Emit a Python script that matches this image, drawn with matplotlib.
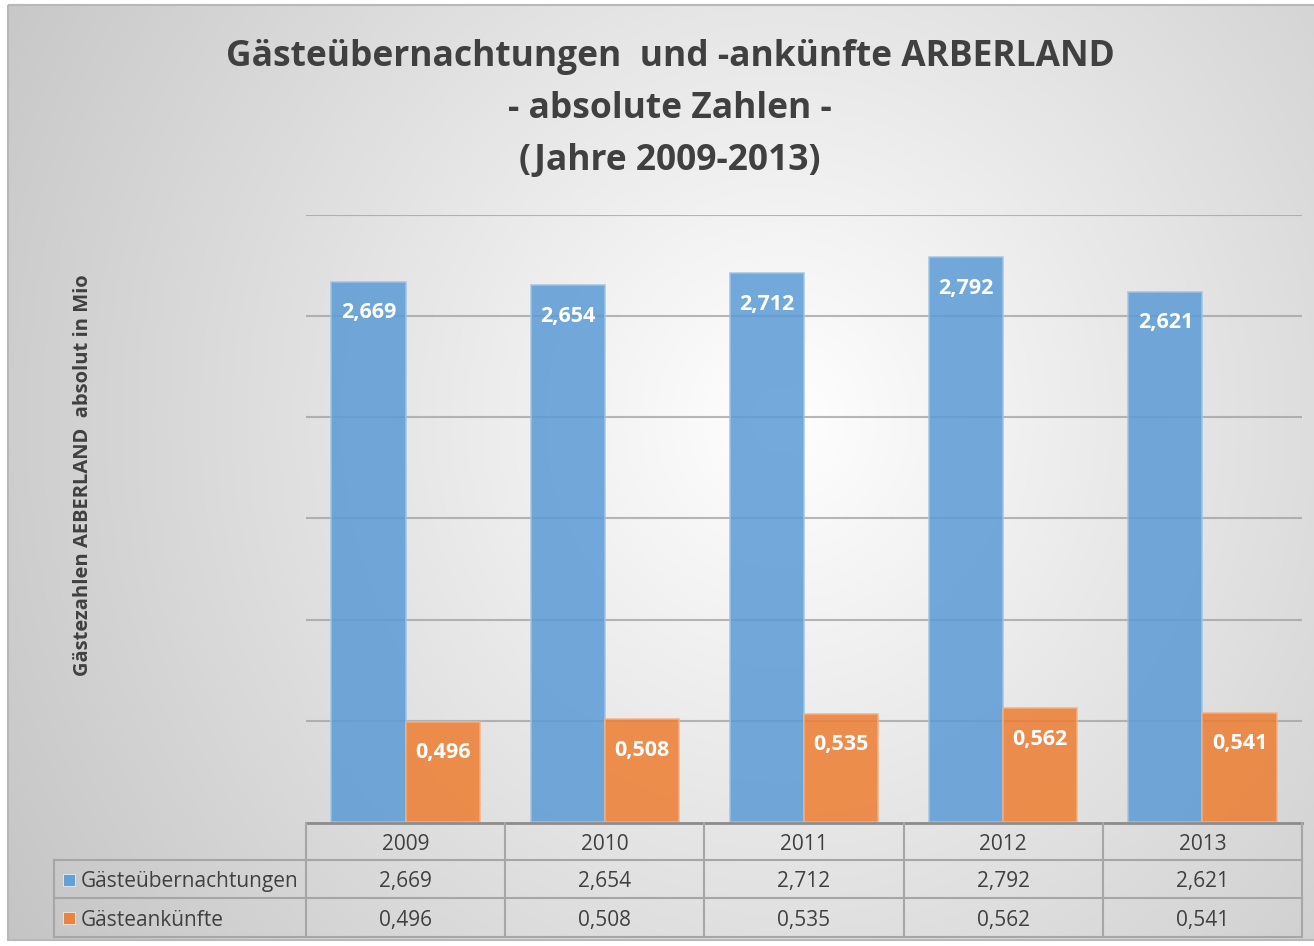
import numpy as np
import matplotlib
matplotlib.use("Agg")
import matplotlib.pyplot as plt
import matplotlib.transforms as mtransforms
from matplotlib.patches import Rectangle

# ---- data ----
years = ["2009", "2010", "2011", "2012", "2013"]
uebernachtungen = [2.669, 2.654, 2.712, 2.792, 2.621]
ankuenfte = [0.496, 0.508, 0.535, 0.562, 0.541]
series_names = ["Gästeübernachtungen", "Gästeankünfte"]
title_lines = ["Gästeübernachtungen  und -ankünfte ARBERLAND", "- absolute Zahlen -", "(Jahre 2009-2013)"]
ylabel = "Gästezahlen AEBERLAND  absolut in Mio"

def de(v):
    return f"{v:.3f}".replace(".", ",")

FONT = ["Open Sans", "DejaVu Sans"]
TXT = "#404040"
BLUE = "#5B9BD5"
ORANGE = "#ED7D31"

W, H = 1314, 946
fig = plt.figure(figsize=(W / 100, H / 100), dpi=100)
fig.patch.set_facecolor("white")

# ---- background panel with radial gradient ----
bg = fig.add_axes([0, 0, 1, 1], zorder=-5)
bg.set_xlim(0, W)
bg.set_ylim(H, 0)
bg.axis("off")
yy, xx = np.mgrid[0:H, 0:W]
cx, cy = 780, 420
r = np.sqrt(((xx - cx) / 1.0) ** 2 + ((yy - cy) / 1.05) ** 2)
val = 1 - 0.22 * np.clip(r / 880, 0, 1.2)
img = np.dstack([val, val, val])
x0, y0, x1, y1 = 8, 5, W + 2, 940
bg.imshow(img[y0:y1, x0:x1], extent=(x0, x1, y1, y0), aspect="auto", interpolation="bilinear")
bg.add_patch(Rectangle((x0, y0), x1 - x0, y1 - y0, fill=False, edgecolor="#b8b8b8", lw=1.5))

# ---- main axes ----
L, R, B, T = 306, 1302, 822, 215
ax = fig.add_axes([L / W, 1 - B / H, (R - L) / W, (B - T) / H])
ax.set_facecolor("none")
x = np.arange(len(years))
bw = 0.372
b1 = ax.bar(x - bw / 2, uebernachtungen, bw, color=BLUE, alpha=0.85, edgecolor="#9DC3E6", lw=1.2, zorder=3)
b2 = ax.bar(x + bw / 2, ankuenfte, bw, color=ORANGE, alpha=0.85, edgecolor="#F4B183", lw=1.2, zorder=3)
ax.set_xlim(-0.5, len(years) - 0.5)
ax.set_ylim(0, 3.0)
ax.set_yticks(np.arange(0.5, 3.01, 0.5))
ax.yaxis.grid(True, color="#a0a0a0", lw=1.5, alpha=0.75, zorder=0)
ax.set_axisbelow(True)
ax.tick_params(left=False, bottom=False, labelleft=False, labelbottom=False)
for s in ax.spines.values():
    s.set_visible(False)

for bars, vals in ((b1, uebernachtungen), (b2, ankuenfte)):
    for rect, v in zip(bars, vals):
        ax.annotate(de(v), (rect.get_x() + rect.get_width() / 2, v), xytext=(0, -31),
                    textcoords="offset pixels", ha="center", va="center", color="white",
                    fontsize=15.5, fontweight="bold", family=FONT, zorder=5)

# ---- data table ----
tr = mtransforms.blended_transform_factory(ax.transData, ax.transAxes)
ph = B - T
def ay(py):
    return (B - py) / ph
colw = (R - L) / len(years)
def dx(px):
    return (px - L) / colw - 0.5

lc = "#a6a6a6"
ax.plot([-0.5, len(years) - 0.5], [ay(823), ay(823)], transform=tr, color="#8c8c8c", lw=2, clip_on=False)
for py in (860, 898, 937):
    ax.plot([dx(54), len(years) - 0.5], [ay(py), ay(py)], transform=tr, color=lc, lw=1.5, clip_on=False)
for i in range(len(years) + 1):
    ax.plot([i - 0.5, i - 0.5], [ay(823), ay(937)], transform=tr, color=lc, lw=1.5, clip_on=False)
ax.plot([dx(54), dx(54)], [ay(860), ay(937)], transform=tr, color=lc, lw=1.5, clip_on=False)

rows_y = [881.5, 920]
TS = 15
for i, yr in enumerate(years):
    ax.text(i, ay(844.5), yr, transform=tr, ha="center", va="center", fontsize=TS, color=TXT, family=FONT)
    ax.text(i, ay(rows_y[0]), de(uebernachtungen[i]), transform=tr, ha="center", va="center", fontsize=TS, color=TXT, family=FONT)
    ax.text(i, ay(rows_y[1]), de(ankuenfte[i]), transform=tr, ha="center", va="center", fontsize=TS, color=TXT, family=FONT)
for name, col, py in zip(series_names, (BLUE, ORANGE), rows_y):
    ax.plot([dx(69)], [ay(py - 2)], transform=tr, marker="s", ms=8, color=col, alpha=0.9, clip_on=False, mec="white", mew=0.5)
    ax.text(dx(81), ay(py), name, transform=tr, ha="left", va="center", fontsize=TS, color=TXT, family=FONT)

# ---- titles ----
for line, py in zip(title_lines, (57, 109, 161)):
    fig.text(670 / W, 1 - py / H, line, ha="center", va="center", fontsize=25.5, fontweight="bold",
             color=TXT, family=FONT)
fig.text(83 / W, 1 - 475 / H, ylabel, rotation=90, ha="center", va="center", fontsize=14.5,
         fontweight="bold", color=TXT, family=FONT)

fig.savefig("out.png", dpi=100)
